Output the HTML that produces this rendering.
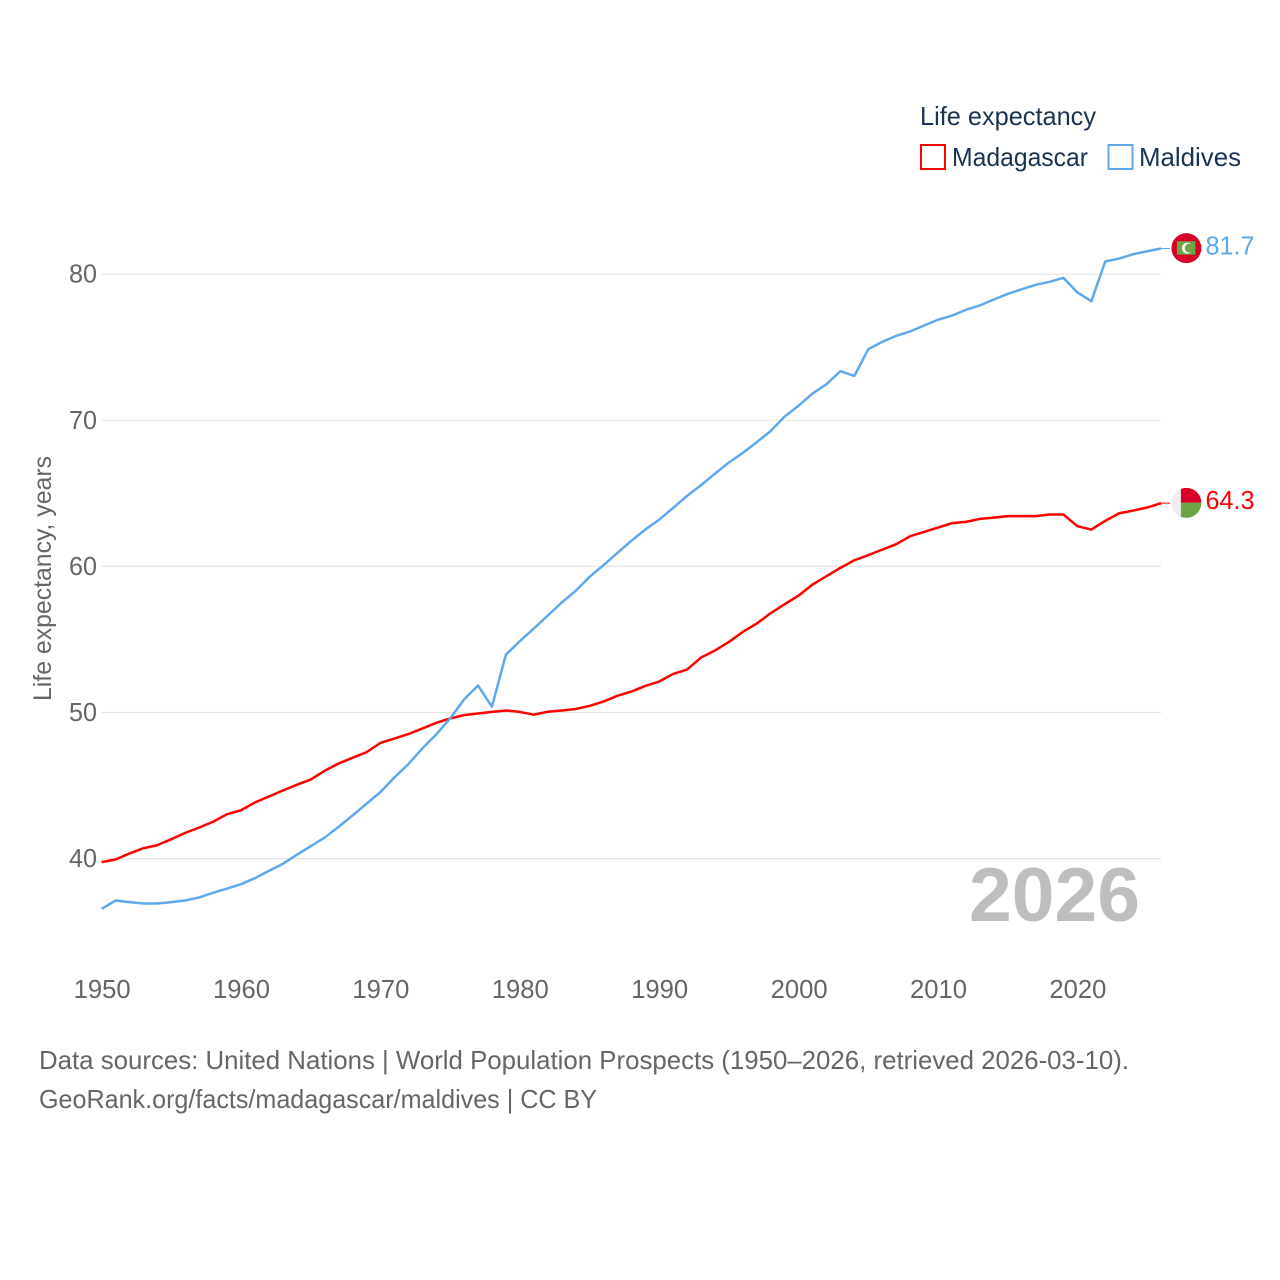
<!DOCTYPE html>
<html lang="en">
<head>
<meta charset="utf-8">
<title>Life expectancy: Madagascar and Maldives</title>
<style>
html,body{margin:0;padding:0;background:#fff;width:1280px;height:1280px;overflow:hidden}
svg{display:block;font-family:"Liberation Sans",sans-serif}
</style>
</head>
<body>
<svg id="chart" xmlns="http://www.w3.org/2000/svg" width="1280" height="1280" viewBox="0 0 1280 1280">
  <g id="grid"></g>
  <g id="yticks"></g>
  <g id="xticks"></g>
  <text transform="translate(51,578.5) rotate(-90)" text-anchor="middle" font-size="25" fill="#666" textLength="245" lengthAdjust="spacingAndGlyphs">Life expectancy, years</text>
  <text x="969" y="921" font-size="76" font-weight="700" fill="#bebebe" textLength="171" lengthAdjust="spacingAndGlyphs">2026</text>
  <g id="series"></g>

  <g id="flag-maldives">
    <circle cx="0" cy="0" r="15" fill="#d80027"/>
    <rect x="-9.5" y="-7" width="18.5" height="13.5" fill="#6da544"/>
    <circle cx="1" cy="0" r="5.5" fill="#f0f0f0"/>
    <circle cx="3" cy="0" r="4.5" fill="#6da544"/>
  </g>
  <g id="flag-madagascar">
    <clipPath id="mad-clip"><circle cx="0" cy="0" r="15"/></clipPath>
    <g clip-path="url(#mad-clip)">
      <rect x="-15" y="-15" width="9.5" height="30" fill="#eeeeee"/>
      <rect x="-5.5" y="-15" width="20.5" height="15" fill="#d80027"/>
      <rect x="-5.5" y="0" width="20.5" height="15" fill="#6da544"/>
    </g>
  </g>
  <g id="endlabels"></g>

  <g fill="#1a3353" font-size="26">
    <text x="920" y="125" textLength="176" lengthAdjust="spacingAndGlyphs">Life expectancy</text>
    <g>
      <rect x="921" y="145" width="24" height="24" fill="none" stroke="#ff0000" stroke-width="2"/>
      <text x="952" y="166" textLength="136" lengthAdjust="spacingAndGlyphs">Madagascar</text>
    </g>
    <g>
      <rect x="1108.500" y="145" width="24" height="24" fill="none" stroke="#5fa8ec" stroke-width="2"/>
      <text x="1139" y="166" textLength="102" lengthAdjust="spacingAndGlyphs">Maldives</text>
    </g>
  </g>

  <g fill="#666" font-size="26">
    <text x="39" y="1069" textLength="1090" lengthAdjust="spacingAndGlyphs">Data sources: United Nations | World Population Prospects (1950–2026, retrieved 2026-03-10).</text>
    <text x="39" y="1108" textLength="558" lengthAdjust="spacingAndGlyphs">GeoRank.org/facts/madagascar/maldives | CC BY</text>
  </g>
</svg>
<script>
const firstYear = 1950;
const madagascar = [39.76,39.94,40.35,40.71,40.92,41.33,41.76,42.13,42.52,43.04,43.31,43.84,44.25,44.66,45.05,45.41,46.01,46.51,46.9,47.28,47.92,48.22,48.52,48.9,49.29,49.59,49.82,49.93,50.04,50.14,50.04,49.85,50.05,50.14,50.24,50.45,50.75,51.14,51.43,51.82,52.12,52.64,52.94,53.76,54.24,54.83,55.52,56.09,56.8,57.41,58.0,58.76,59.33,59.9,60.42,60.77,61.15,61.52,62.07,62.36,62.66,62.96,63.05,63.25,63.34,63.44,63.44,63.44,63.55,63.55,62.75,62.52,63.12,63.64,63.82,64.03,64.33];
const maldives = [36.56,37.13,37.02,36.93,36.93,37.02,37.13,37.34,37.66,37.95,38.25,38.66,39.16,39.64,40.26,40.85,41.44,42.17,42.95,43.75,44.55,45.55,46.46,47.53,48.49,49.59,50.89,51.85,50.4,53.96,54.88,55.75,56.63,57.52,58.32,59.28,60.08,60.92,61.75,62.52,63.2,64.0,64.83,65.56,66.35,67.11,67.77,68.5,69.27,70.26,71.0,71.83,72.47,73.36,73.04,74.87,75.37,75.78,76.08,76.49,76.88,77.17,77.56,77.86,78.27,78.65,78.97,79.27,79.48,79.75,78.75,78.15,80.87,81.07,81.37,81.57,81.76];
const xTickLabels = [1950,1960,1970,1980,1990,2000,2010,2020];
const yTickLabels = [40,50,60,70,80];
const endLabels = ["64.3","81.7"];

const NS = "http://www.w3.org/2000/svg";
const xScale = year => 101.6 + (year - 1950) * 13.94;
const yScale = value => 274.2 + (80 - value) * 14.61;
const gridEnd = xScale(2026);
const gridG = document.getElementById("grid");
const yG = document.getElementById("yticks");
const xG = document.getElementById("xticks");
const seriesG = document.getElementById("series");
const endG = document.getElementById("endlabels");

yTickLabels.forEach(v => {
  const line = document.createElementNS(NS, "line");
  line.setAttribute("x1", 101.5);
  line.setAttribute("x2", gridEnd);
  line.setAttribute("y1", yScale(v));
  line.setAttribute("y2", yScale(v));
  line.setAttribute("stroke", "#e4e4e4");
  line.setAttribute("stroke-width", "1.2");
  
  
  gridG.appendChild(line);

  const t = document.createElementNS(NS, "text");
  t.setAttribute("x", 97);
  t.setAttribute("y", yScale(v) + 8.5);
  t.setAttribute("text-anchor", "end");
  t.setAttribute("font-size", "26");
  t.setAttribute("fill", "#666");
  t.setAttribute("textLength", "28");
  t.setAttribute("lengthAdjust", "spacingAndGlyphs");
  t.textContent = v;
  
  
  yG.appendChild(t);
});

xTickLabels.forEach(y => {
  const t = document.createElementNS(NS, "text");
  t.setAttribute("x", xScale(y) + 0.5);
  t.setAttribute("y", 998);
  t.setAttribute("text-anchor", "middle");
  t.setAttribute("font-size", "26");
  t.setAttribute("fill", "#666");
  t.setAttribute("textLength", "57");
  t.setAttribute("lengthAdjust", "spacingAndGlyphs");
  t.textContent = y;
  
  
  xG.appendChild(t);
});

function drawSeries(values, color, seriesName, label, flagId) {
  const pts = values.map((v, i) => xScale(firstYear + i).toFixed(2) + "," + yScale(v).toFixed(2)).join(" ");
  const path = document.createElementNS(NS, "polyline");
  path.setAttribute("points", pts);
  path.setAttribute("fill", "none");
  path.setAttribute("stroke", color);
  path.setAttribute("stroke-width", "2.5");
  path.setAttribute("stroke-linejoin", "round");
  
  
  seriesG.appendChild(path);

  const last = yScale(values[values.length - 1]);
  const conn = document.createElementNS(NS, "line");
  conn.setAttribute("x1", gridEnd);
  conn.setAttribute("x2", gridEnd + 9);
  conn.setAttribute("y1", last);
  conn.setAttribute("y2", last);
  conn.setAttribute("stroke", color);
  conn.setAttribute("stroke-width", "1");
  
  
  seriesG.appendChild(conn);

  document.getElementById(flagId).setAttribute("transform", "translate(1186.4," + (last - 0.3) + ")");

  const t = document.createElementNS(NS, "text");
  t.setAttribute("x", 1205.5);
  t.setAttribute("y", last + 6);
  t.setAttribute("font-size", "26");
  t.setAttribute("fill", color);
  t.setAttribute("textLength", "49");
  t.setAttribute("lengthAdjust", "spacingAndGlyphs");
  t.textContent = label;
  
  
  endG.appendChild(t);
}

drawSeries(madagascar, "#ff0000", "madagascar-line", endLabels[0], "flag-madagascar");
drawSeries(maldives, "#5fa8ec", "maldives-line", endLabels[1], "flag-maldives");
</script>
</body>
</html>
